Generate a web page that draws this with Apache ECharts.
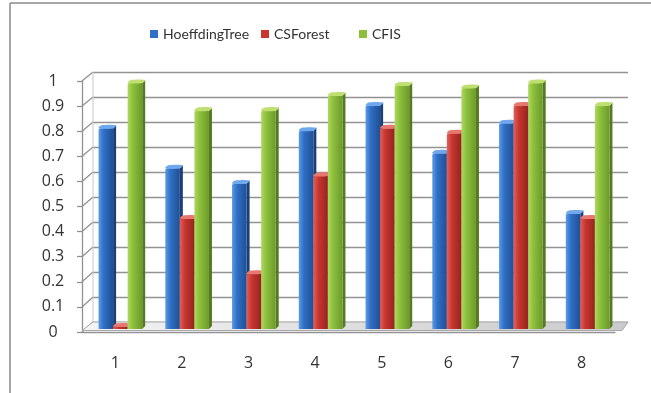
<!DOCTYPE html>
<html>
<head>
<meta charset="utf-8">
<script src="https://cdn.jsdelivr.net/npm/echarts@6/dist/echarts.min.js"></script>
<style>html,body{margin:0;padding:0;background:#fff}#c{width:651px;height:393px}</style>
</head>
<body>
<div id="c"></div>
<script>
const categories = ['1', '2', '3', '4', '5', '6', '7', '8'];
const seriesNames = ['HoeffdingTree', 'CSForest', 'CFIS'];
const hoeffdingTree = [0.80, 0.64, 0.58, 0.79, 0.89, 0.70, 0.82, 0.46];
const csForest = [0.01, 0.44, 0.22, 0.61, 0.80, 0.78, 0.89, 0.44];
const cfis = [0.98, 0.87, 0.87, 0.93, 0.97, 0.96, 0.98, 0.89];
const yMin = 0, yMax = 1, yStep = 0.1;

// layout
const W = 651, H = 393;
const front = { left: 82, right: 615, top: 81, bottom: 332 };
const back = { left: 93, right: 628, top: 72, bottom: 322 };
const bars = { left: 87, right: 621, top: 78, bottom: 329 };
const FONT = '"Open Sans", sans-serif';
const LFONT = 'Lato, "Open Sans", sans-serif';
const TXT = '#333333';
const GRID = '#929292';

const palettes = [
  { light: '#5b9be6', base: '#2f6fc6', dark: '#214f93', side: '#1b3f78', top: '#6fa8ec' },
  { light: '#e2605a', base: '#c8362f', dark: '#952420', side: '#7c1d19', top: '#e8776f' },
  { light: '#b0d85e', base: '#8cc03c', dark: '#6c9a2a', side: '#557a21', top: '#bfe070' }
];

function makeRender(sIdx) {
  const p = palettes[sIdx];
  return function (params, api) {
    const cat = api.value(0), v = api.value(1);
    const base = api.coord([cat, 0]);
    const top = api.coord([cat, v]);
    const band = api.size([1, 0])[0];
    const w = band * 0.218;
    const dx = 3, dy = 3;
    const x0 = base[0] + (sIdx - 1.5) * w;
    const yb = base[1], yt = top[1];
    const h = Math.max(yb - yt, 1);
    return {
      type: 'group',
      children: [
        { type: 'polygon', shape: { points: [[x0 + w, yb], [x0 + w, yt], [x0 + w + dx, yt - dy], [x0 + w + dx, yb - dy]] },
          style: { fill: p.side } },
        { type: 'rect', shape: { x: x0, y: yt, width: w, height: h, r: [2, 0, 0, 0] },
          style: { fill: new echarts.graphic.LinearGradient(0, 0, 1, 0, [
            { offset: 0, color: p.light }, { offset: 0.35, color: p.base }, { offset: 1, color: p.dark }]) } },
        { type: 'polygon', shape: { points: [[x0, yt], [x0 + w, yt], [x0 + w + dx, yt - dy], [x0 + dx, yt - dy]], smooth: 0.3 },
          style: { fill: p.top } }
      ]
    };
  };
}

const dataSets = [hoeffdingTree, csForest, cfis];

const graphics = [];
// frame
graphics.push({ type: 'line', shape: { x1: 10, y1: 3, x2: W, y2: 3 }, style: { stroke: '#8a8a8a', lineWidth: 1.5 }, z: 0 });
graphics.push({ type: 'line', shape: { x1: 10, y1: 3, x2: 10, y2: H }, style: { stroke: '#8a8a8a', lineWidth: 1.5 }, z: 0 });
// left wall diagonals
const nTicks = Math.round((yMax - yMin) / yStep);
for (let i = 0; i <= nTicks; i++) {
  const f = i / nTicks;
  const yf = front.bottom - f * (front.bottom - front.top);
  const yb = back.bottom - f * (back.bottom - back.top);
  graphics.push({ type: 'line', shape: { x1: front.left, y1: yf, x2: back.left, y2: yb }, style: { stroke: GRID, lineWidth: 1.3 }, z: 1 });
}
graphics.push({ type: 'line', shape: { x1: back.left, y1: back.top, x2: back.left, y2: back.bottom }, style: { stroke: '#c8c8c8', lineWidth: 1 }, z: 1 });
// floor
graphics.push({ type: 'polygon', shape: { points: [[front.left, front.bottom - 1.5], [front.right + 7, front.bottom - 1.5], [back.right, back.bottom], [back.left, back.bottom]] },
  style: { fill: new echarts.graphic.LinearGradient(0, 0, 1, 0, [{ offset: 0, color: '#f4f4f4' }, { offset: 0.5, color: '#dedede' }, { offset: 1, color: '#cacaca' }]), stroke: '#a8a8a8', lineWidth: 1 }, z: 2 });

const chart = echarts.init(document.getElementById('c'), null, { renderer: 'canvas' });
chart.setOption({
  animation: false,
  backgroundColor: '#ffffff',
  graphic: graphics,
  legend: [
    { data: [seriesNames[0]], left: 145, top: 22 },
    { data: [seriesNames[1]], left: 256, top: 22 },
    { data: [seriesNames[2]], left: 354, top: 22 }
  ].map(l => Object.assign(l, { icon: 'rect', itemWidth: 8, itemHeight: 8, itemGap: 10,
    textStyle: { fontFamily: LFONT, fontSize: 14, color: TXT } })),
  grid: [
    { left: back.left, right: W - back.right, top: back.top, bottom: H - back.bottom },
    { left: front.left, right: W - front.right, top: front.top, bottom: H - front.bottom },
    { left: bars.left, right: W - bars.right, top: bars.top, bottom: H - bars.bottom }
  ],
  xAxis: [
    { gridIndex: 0, type: 'category', data: categories, show: false },
    { gridIndex: 1, type: 'category', data: categories,
      axisLine: { lineStyle: { color: GRID, width: 1.3 } },
      axisTick: { length: 6, lineStyle: { color: GRID, width: 1.3 } },
      axisLabel: { margin: 23, fontFamily: FONT, fontSize: 16, color: TXT } },
    { gridIndex: 2, type: 'category', data: categories, show: false }
  ],
  yAxis: [
    { gridIndex: 0, type: 'value', min: yMin, max: yMax, interval: yStep,
      axisLabel: { show: false }, axisLine: { show: false }, axisTick: { show: false },
      splitLine: { lineStyle: { color: GRID, width: 1.3 } } },
    { gridIndex: 1, type: 'value', min: yMin, max: yMax, interval: yStep,
      axisLine: { show: true, lineStyle: { color: GRID, width: 1.3 } },
      axisTick: { show: true, length: 5, lineStyle: { color: GRID, width: 1.3 } },
      splitLine: { show: false },
      axisLabel: { margin: 29, align: 'center', fontFamily: FONT, fontSize: 16, color: TXT } },
    { gridIndex: 2, type: 'value', min: yMin, max: yMax, show: false, splitLine: { show: false } }
  ],
  series: dataSets.map((d, i) => ({
    type: 'custom',
    name: seriesNames[i],
    xAxisIndex: 2, yAxisIndex: 2,
    itemStyle: { color: palettes[i].base },
    renderItem: makeRender(i),
    data: d.map((v, k) => [k, v]),
    z: 5 + i
  }))
});
</script>
</body>
</html>
